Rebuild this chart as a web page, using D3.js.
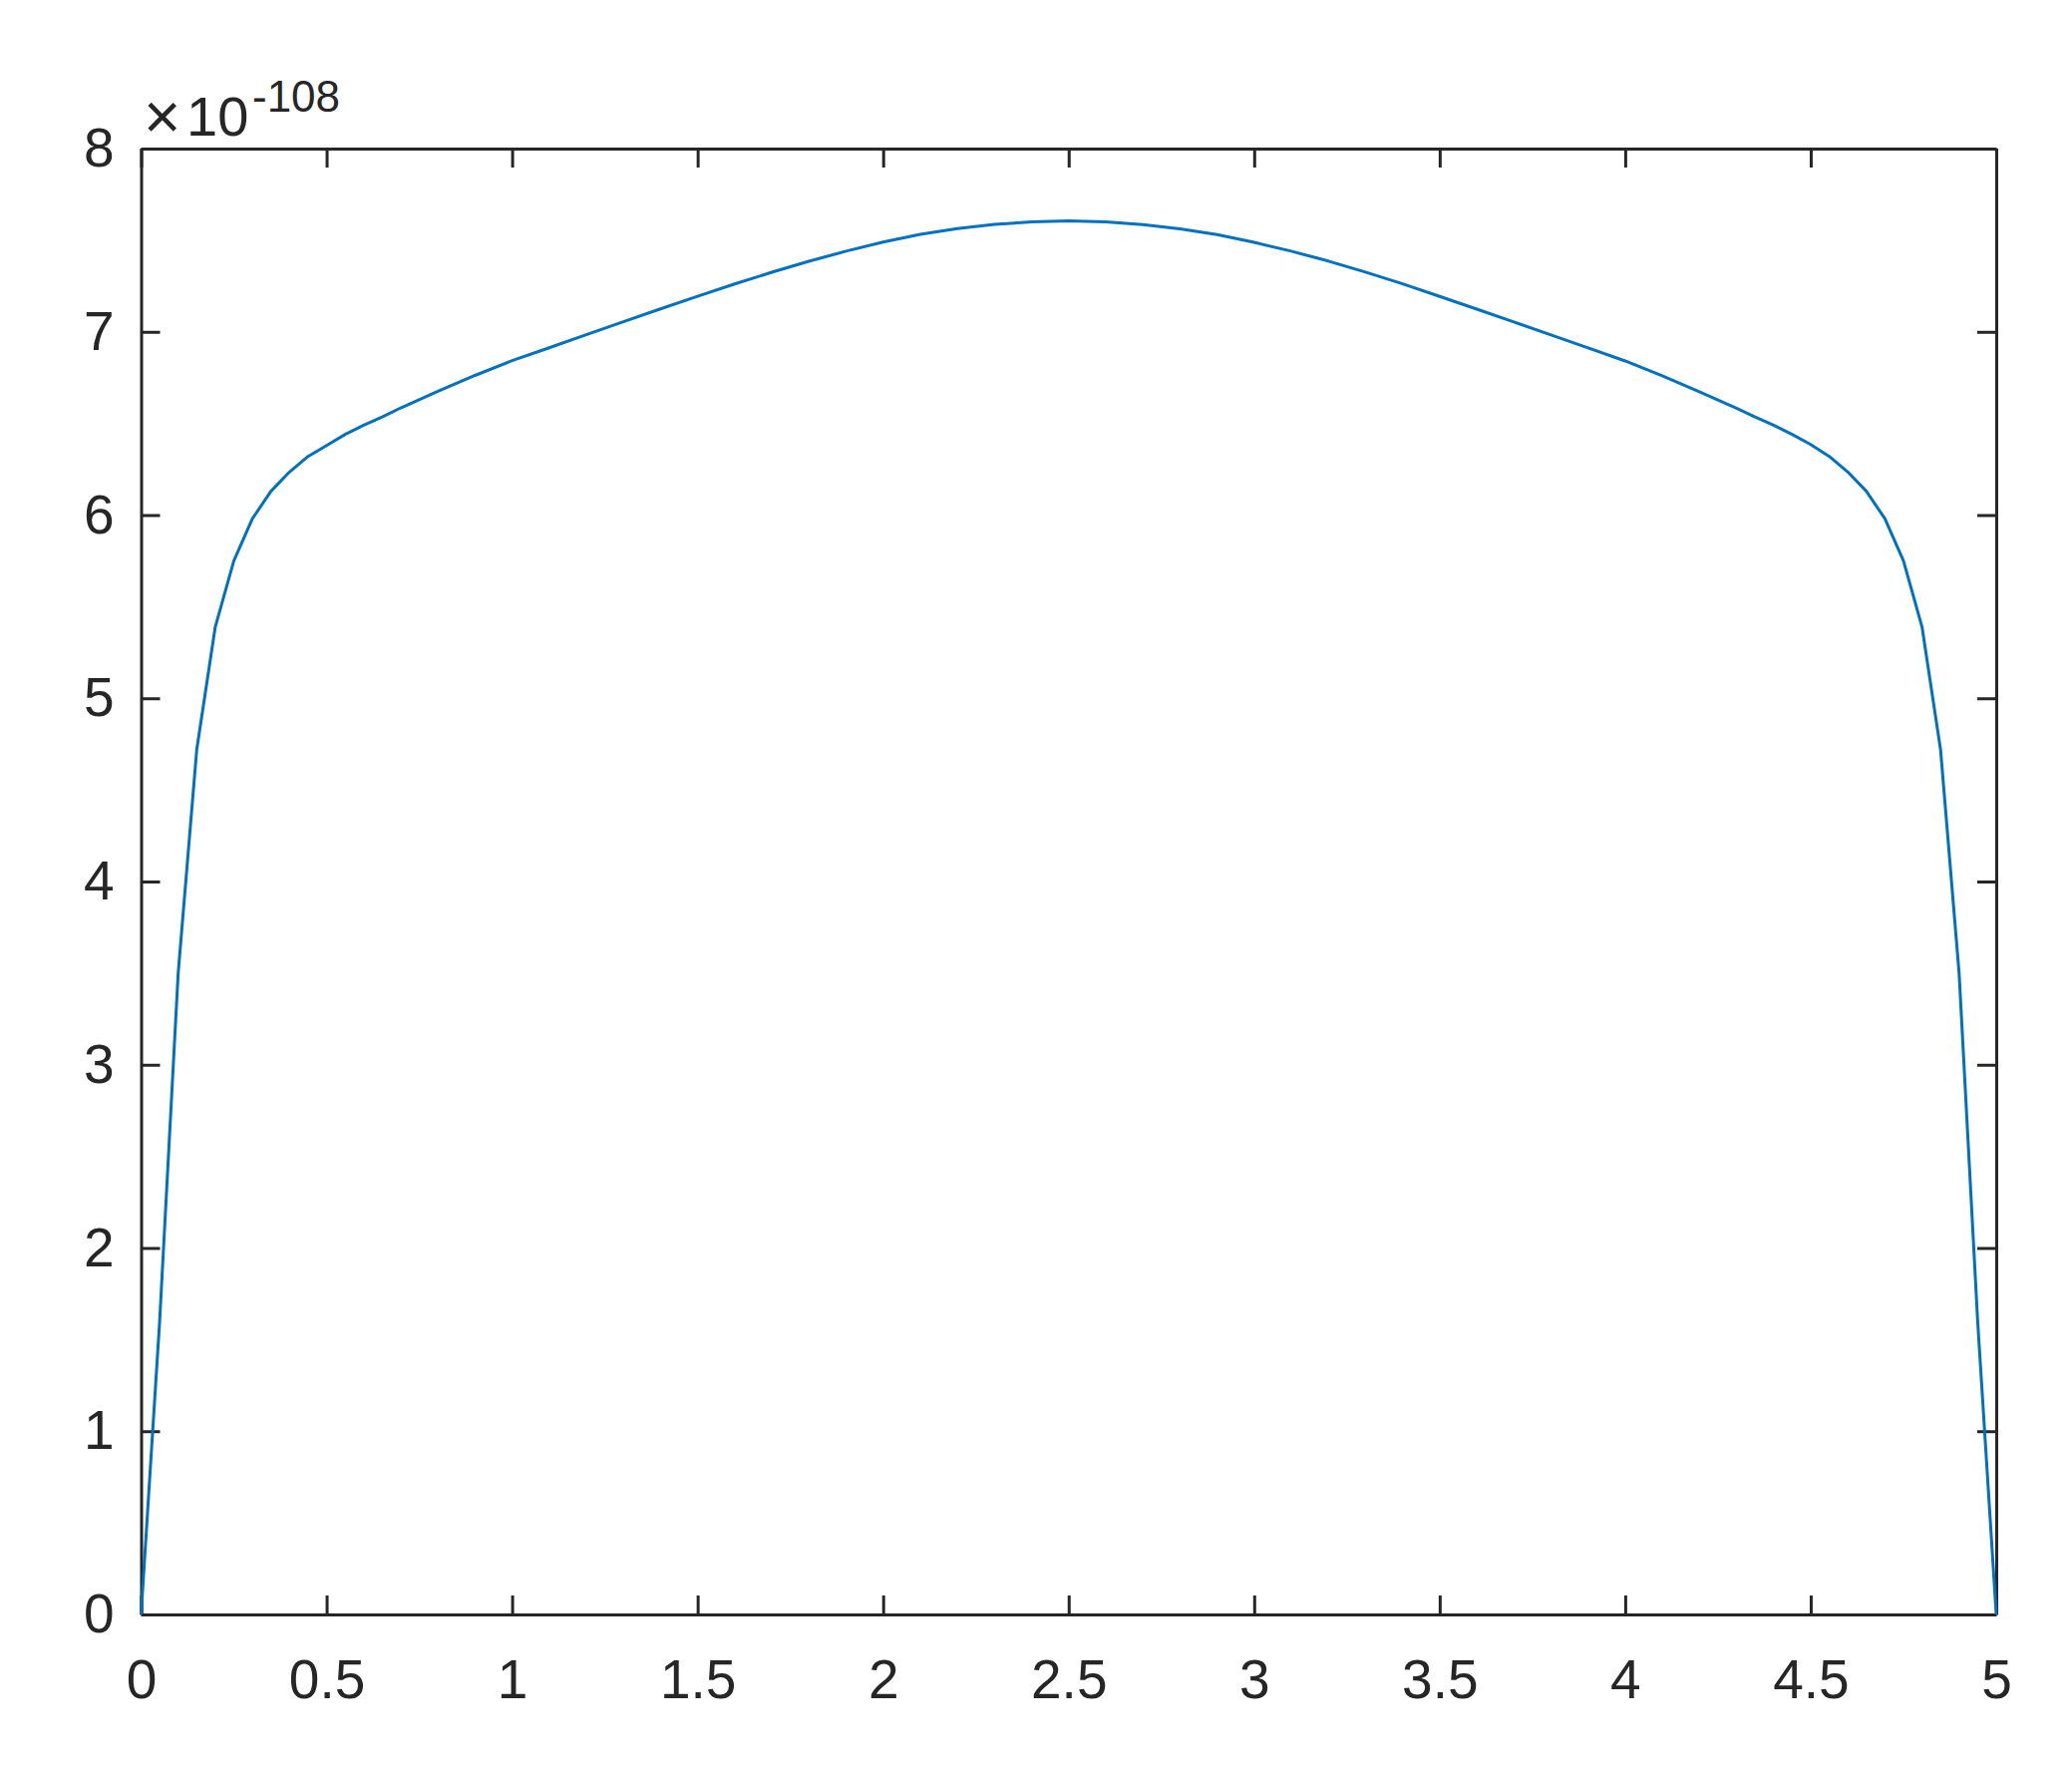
<!DOCTYPE html>
<html>
<head>
<meta charset="utf-8">
<script src="https://cdn.jsdelivr.net/npm/d3@7"></script>
<style>
  body { margin: 0; background: #fff; }
  #chart text { font-family: "Liberation Sans", Arial, Helvetica, sans-serif; fill: #262626; }
</style>
</head>
<body>
<div id="chart"></div>
<script>
// values (y in units of 1e-108)
var xValues = [0, 0.05, 0.1, 0.15, 0.2, 0.25, 0.3, 0.35, 0.4, 0.45, 0.5, 0.55, 0.6, 0.65, 0.7,
    0.8, 0.9, 1.0, 1.1, 1.2, 1.3, 1.4, 1.5, 1.6, 1.7, 1.8, 1.9, 2.0, 2.1, 2.2, 2.3, 2.4, 2.5,
    2.6, 2.7, 2.8, 2.9, 3.0, 3.1, 3.2, 3.3, 3.4, 3.5, 3.6, 3.7, 3.8, 3.9, 4.0, 4.1, 4.2,
    4.3, 4.35, 4.4, 4.45, 4.5, 4.55, 4.6, 4.65, 4.7, 4.75, 4.8, 4.85, 4.9, 4.95, 5.0];
var yValues = [0, 1.6, 3.5, 4.72, 5.39, 5.75, 5.98, 6.13, 6.235, 6.32, 6.38, 6.44, 6.49, 6.535, 6.585,
    6.675, 6.762, 6.843, 6.913, 6.984, 7.055, 7.125, 7.194, 7.261, 7.325, 7.385, 7.44, 7.49, 7.532, 7.563, 7.586, 7.6, 7.605,
    7.6, 7.585, 7.562, 7.531, 7.488, 7.44, 7.386, 7.326, 7.262, 7.193, 7.124, 7.054, 6.983, 6.912, 6.841, 6.76, 6.673,
    6.583, 6.535, 6.49, 6.44, 6.385, 6.32, 6.235, 6.13, 5.98, 5.75, 5.39, 4.72, 3.5, 1.6, 0];
var xTicks = [0, 0.5, 1, 1.5, 2, 2.5, 3, 3.5, 4, 4.5, 5];
var yTicks = [0, 1, 2, 3, 4, 5, 6, 7, 8];
var exponentLabel = "-108";

var svgWidth = 2078, svgHeight = 1775;
var margin = {top: 149, left: 141.5, right: 76, bottom: 156};
var width = svgWidth - margin.left - margin.right;
var height = svgHeight - margin.top - margin.bottom;
var axisColor = "#262626";
var tickLen = 19;

var svg = d3.select("#chart").append("svg")
    .attr("width", svgWidth)
    .attr("height", svgHeight);

var g = svg.append("g").attr("transform", "translate(" + margin.left + "," + margin.top + ")");

var x = d3.scaleLinear().domain([0, 5]).range([0, width]);
var y = d3.scaleLinear().domain([0, 8]).range([height, 0]);

var fmt = d => String(d);

function styleAxis(sel) {
    sel.selectAll("path").attr("stroke", axisColor).attr("stroke-width", 3);
    sel.selectAll("line").attr("stroke", axisColor).attr("stroke-width", 3);
    sel.selectAll("text").style("font-size", "55px").attr("fill", axisColor);
}

g.append("g")
    .attr("transform", "translate(0," + height + ")")
    .call(d3.axisBottom(x).tickValues(xTicks).tickFormat(fmt).tickSizeInner(-tickLen).tickSizeOuter(0).tickPadding(45))
    .call(styleAxis);

g.append("g")
    .call(d3.axisTop(x).tickValues(xTicks).tickFormat("").tickSizeInner(-tickLen).tickSizeOuter(0))
    .call(styleAxis);

g.append("g")
    .call(d3.axisLeft(y).tickValues(yTicks).tickFormat(fmt).tickSizeInner(-tickLen).tickSizeOuter(0).tickPadding(27))
    .call(styleAxis);

g.append("g")
    .attr("transform", "translate(" + width + ",0)")
    .call(d3.axisRight(y).tickValues(yTicks).tickFormat("").tickSizeInner(-tickLen).tickSizeOuter(0))
    .call(styleAxis);

// exponent label: "× 10^-108"
svg.append("text")
    .attr("x", 144)
    .attr("y", 139)
    .style("font-size", "64px")
    .text("\u00d7");
svg.append("text")
    .attr("x", 187)
    .attr("y", 136)
    .style("font-size", "56px")
    .text("10");
svg.append("text")
    .attr("x", 253)
    .attr("y", 112)
    .style("font-size", "44px")
    .text(exponentLabel);

var data = xValues.map((d, i) => ({x: d, y: yValues[i]}));

var line = d3.line()
    .x(d => x(d.x))
    .y(d => y(d.y));

g.append("path")
    .datum(data)
    .attr("fill", "none")
    .attr("stroke", "#0072BD")
    .attr("stroke-width", 3)
    .attr("stroke-linejoin", "round")
    .attr("d", line);
</script>
</body>
</html>
